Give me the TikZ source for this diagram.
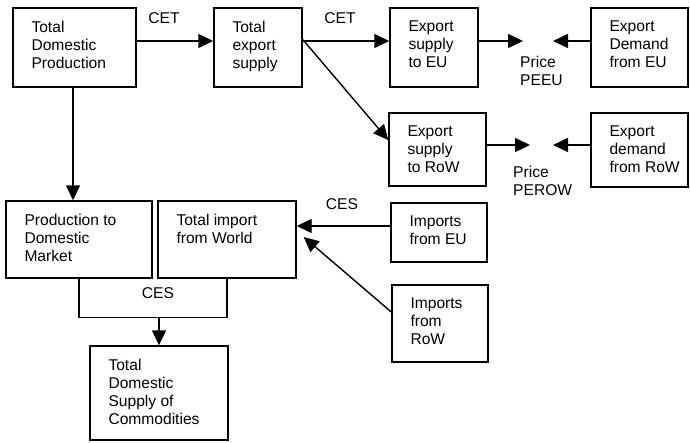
\documentclass[tikz,border=0pt]{standalone}
\usepackage{fontspec}
\setmainfont{Liberation Sans}
\usetikzlibrary{arrows.meta}
\newcommand\mybox[6]{%
  \node[box, minimum width={#4pt-#2pt}, minimum height={#5pt-#3pt}] (#1) at ({(#2+#4)/2},{(#3+#5)/2}) {};
  \node[txt, anchor=north west] (#1t) at ([shift={(19,13.5)}]#1.north west) {#6};
}
\begin{document}
\begin{tikzpicture}[x=1pt,y=-1pt,
  box/.style={draw, line width=1.4pt, inner sep=0pt},
  txt/.style={inner sep=0pt, align=left, font=\fontsize{15.6}{18}\selectfont},
  lbl/.style={inner sep=0pt, font=\fontsize{15.6}{18}\selectfont},
  arr/.style={line width=1.4pt, -{Triangle[length=15pt,width=14pt]}},
  ln/.style={line width=1.4pt}]
\useasboundingbox (0,0) rectangle (690,442);
\mybox{tdp}{13}{8}{136}{87}{Total\\Domestic\\Production}
\mybox{tes}{214}{8}{302}{87}{Total\\export\\supply}
\mybox{eseu}{390}{8}{478}{87}{Export\\supply\\to EU}
\mybox{edeu}{591}{8}{688}{87}{Export\\Demand\\from EU}
\mybox{esrow}{389}{113}{486}{186}{Export\\supply\\to RoW}
\mybox{edrow}{591}{113}{688}{187}{Export\\demand\\from RoW}
\mybox{pdm}{6}{201}{152}{278}{Production to\\Domestic\\Market}
\mybox{tiw}{158}{201}{296}{278}{Total import\\from World}
\mybox{ieu}{391}{203}{487}{262}{Imports\\from EU}
\mybox{irow}{392}{285}{488}{362}{Imports\\from\\RoW}
\mybox{tds}{90}{346}{228}{440}{Total\\Domestic\\Supply of\\Commodities}
% labels
\node[lbl] (cet1) at (164,18) {CET};
\node[lbl] (cet2) at (340,18) {CET};
\node[lbl] (ces1) at (342,204) {CES};
\node[lbl] (ces2) at (158,293) {CES};
\node[txt, anchor=north west] (peeu) at (520,55.5) {Price\\PEEU};
\node[txt, anchor=north west] (perow) at (513,165.5) {Price\\PEROW};
% free ends
\coordinate (peuL) at (523,41);
\coordinate (peuR) at (553,41);
\coordinate (prowL) at (530,145);
\coordinate (prowR) at (553,145);
\coordinate (cesj) at (159,317);
% connectors
\draw[arr] ([xshift=-1.5pt]tdp.south) -- ([xshift=-1.5pt]tdp.south |- pdm.north);
\draw[arr] ([yshift=6.5pt]tdp.east) -- ([yshift=6.5pt]tdp.east -| tes.west);
\draw[arr] ([yshift=6.5pt]tes.east) -- ([yshift=6.5pt]tes.east -| eseu.west);
\draw[arr] ([yshift=8pt]tes.east) -- ([yshift=9.5pt]esrow.west);
\draw[arr] ([yshift=6.5pt]eseu.east) -- (peuL);
\draw[arr] ([yshift=6.5pt]edeu.east -| edeu.west) -- (peuR);
\draw[arr] ([yshift=4.5pt]esrow.east) -- (prowL);
\draw[arr] ([yshift=5pt]edrow.west) -- (prowR);
\draw[arr] ([yshift=6.5pt]ieu.west) -- ([yshift=6.5pt]ieu.west -| tiw.east);
\draw[arr] ([yshift=11.5pt]irow.west) -- ([xshift=7pt,yshift=2.5pt]tiw.east);
\draw[ln] (pdm.south) -- ++(0,39) -| (tiw.south);
\draw[arr] (cesj) -- (tds.north);
\end{tikzpicture}
\end{document}
